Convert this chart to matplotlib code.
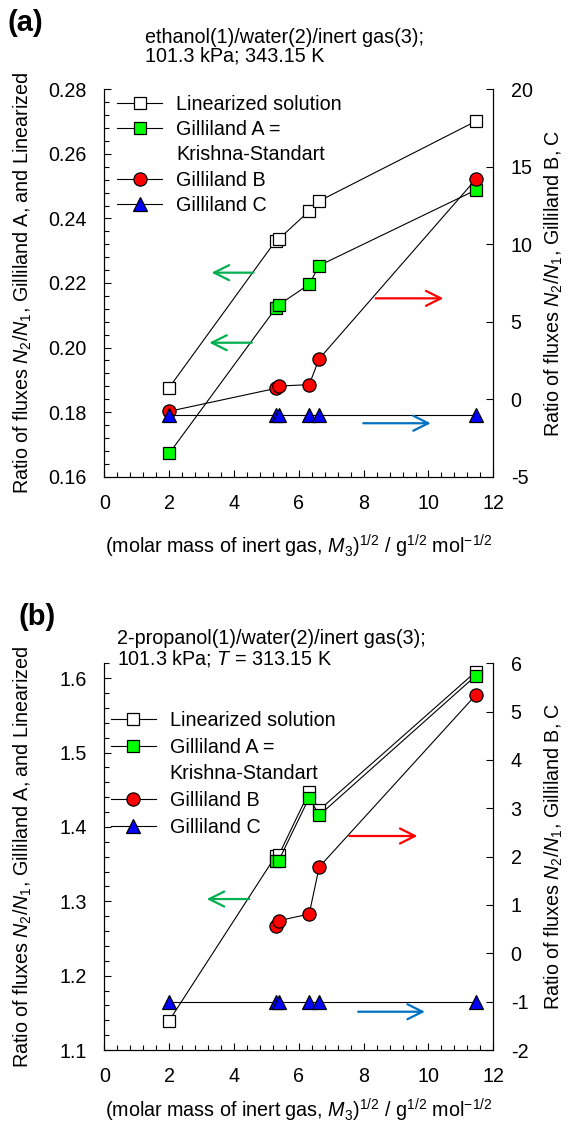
import numpy as np
import matplotlib
matplotlib.use('Agg')
import matplotlib.pyplot as plt
from matplotlib.lines import Line2D
from matplotlib.ticker import MultipleLocator

plt.rcParams['font.family'] = ['Liberation Sans', 'DejaVu Sans']
plt.rcParams['mathtext.fontset'] = 'custom'
plt.rcParams['mathtext.rm'] = 'Liberation Sans'
plt.rcParams['mathtext.it'] = 'Liberation Sans:italic'
plt.rcParams['axes.unicode_minus'] = False

# sqrt of molar mass of inert gas
x = [2.0, 5.29, 5.38, 6.32, 6.63, 11.46]

# (a) ethanol / water
a_lin = [0.1876, 0.2331, 0.2336, 0.2423, 0.2454, 0.2701]
a_gA = [0.1672, 0.2122, 0.2132, 0.2196, 0.2254, 0.2488]
a_gB = [-0.78, 0.70, 0.85, 0.94, 2.61, 14.19]
a_gC = [-1.0, -1.0, -1.0, -1.0, -1.0, -1.0]

# (b) 2-propanol / water
b_lin = [1.1394, 1.3612, 1.3618, 1.4473, 1.4227, 1.6087]
b_gA = [np.nan, 1.3540, 1.3548, 1.4393, 1.4156, 1.6033]
b_gB = [np.nan, 0.571, 0.675, 0.813, 1.786, 5.344]
b_gC = [-1.0, -1.0, -1.0, -1.0, -1.0, -1.0]

labels = ['Linearized solution', 'Gilliland A =', 'Krishna-Standart', 'Gilliland B', 'Gilliland C']

FS = 14.2
W, H = 569, 1134
fx = lambda p: p / W
fy = lambda p: 1 - p / H

xlab = r'(molar mass of inert gas, $M_3$)$^{1/2}$ / g$^{1/2}$ mol$^{-1/2}$'
ylab_l = r'Ratio of fluxes $N_2$/$N_1$, Gilliland A, and Linearized'
ylab_r = r'Ratio of fluxes $N_2$/$N_1$, Gilliland B, C'

mk = dict(markersize=8.6, markeredgecolor='black', markeredgewidth=0.9)
st_lin = dict(color='black', lw=0.8, marker='s', markerfacecolor='white', **mk)
st_A = dict(color='black', lw=0.8, marker='s', markerfacecolor='#00ff00', **mk)
st_B = dict(color='black', lw=0.8, marker='o', markerfacecolor='#ff0000', markersize=9.5,
            markeredgecolor='black', markeredgewidth=0.9)
st_C = dict(color='black', lw=0.8, marker='^', markerfacecolor='#0000ff', markersize=9.5,
            markeredgecolor='black', markeredgewidth=0.9)


def arrow(ax, x0, x1, y, color):
  ax.annotate('', xy=(x1, y), xytext=(x0, y),
              arrowprops=dict(arrowstyle='->,head_length=0.8,head_width=0.4', color=color,
                              lw=1.6, mutation_scale=13.5, shrinkA=0, shrinkB=0))


def panel(rect, lin, gA, gB, gC, ylim_l, ylim_r, maj_l, min_l, maj_r, fmt_l, xlab_y, leg_xy, leg_sp):
  ax = fig.add_axes(rect)
  axr = ax.twinx()
  ax.plot(x, lin, **st_lin)
  ax.plot(x, gA, **st_A)
  axr.plot(x, gB, **st_B)
  axr.plot(x, gC, **st_C)
  ax.set_xlim(0, 12)
  ax.set_ylim(*ylim_l)
  axr.set_ylim(*ylim_r)
  ax.xaxis.set_major_locator(MultipleLocator(2))
  ax.xaxis.set_minor_locator(MultipleLocator(0.4))
  ax.yaxis.set_major_locator(MultipleLocator(maj_l))
  ax.yaxis.set_minor_locator(MultipleLocator(min_l))
  ax.yaxis.set_major_formatter(fmt_l)
  axr.yaxis.set_major_locator(MultipleLocator(maj_r))
  for a in (ax, axr):
    a.spines['top'].set_visible(False)
    for s in a.spines.values():
      s.set_linewidth(0.8)
    a.tick_params(which='major', direction='in', length=5, width=0.8, pad=12.5, labelsize=FS)
    a.tick_params(which='minor', direction='in', length=3.5, width=0.8)
  ax.tick_params(top=False, which='both')
  ax.set_xlabel(xlab, fontsize=FS, va='center')
  ax.xaxis.set_label_coords(0.5, xlab_y)
  ax.set_ylabel(ylab_l, fontsize=FS, va='center')
  ax.yaxis.set_label_coords(-0.209, 0.5)
  axr.set_ylabel(ylab_r, fontsize=FS, va='center')
  axr.yaxis.set_label_coords(1.156, 0.5)
  # legend
  handles = [Line2D([], [], **st_lin), Line2D([], [], **st_A), Line2D([], [], linestyle='none'),
             Line2D([], [], **st_B), Line2D([], [], **st_C)]
  axr.legend(handles, labels, loc='upper left', bbox_to_anchor=leg_xy, frameon=False,
             fontsize=FS, handlelength=2.3, handletextpad=0.7, labelspacing=leg_sp,
             borderaxespad=0, borderpad=0, numpoints=1)
  return ax, axr


fig = plt.figure(figsize=(W / 100, H / 100), dpi=100)

ax1, ax1r = panel([fx(104.3), fy(476.7), fx(493.3) - fx(104.3), fy(89.3) - fy(476.7)],
                  a_lin, a_gA, a_gB, a_gC, (0.16, 0.28), (-5, 20), 0.02, 0.004, 5, '{x:.2f}',
                  -0.181, (0.033, 0.986), 0.32)
arrow(ax1, 4.60, 3.31, 0.2232, '#00b050')
arrow(ax1, 4.55, 3.24, 0.2015, '#00b050')
arrow(ax1r, 8.37, 10.46, 6.51, '#ff0000')
arrow(ax1r, 7.99, 10.07, -1.55, '#0070c0')

ax2, ax2r = panel([fx(104.3), fy(1050), fx(493.3) - fx(104.3), fy(663.3) - fy(1050)],
                  b_lin, b_gA, b_gB, b_gC, (1.1, 1.62), (-2, 6), 0.1, 0.02, 1, '{x:.1f}',
                  -0.155, (0.016, 0.877), 0.39)
arrow(ax2, 4.47, 3.16, 1.303, '#00b050')
arrow(ax2r, 7.56, 9.66, 2.427, '#ff0000')
arrow(ax2r, 7.83, 9.89, -1.208, '#0070c0')

fig.text(fx(25), fy(23), '(a)', fontsize=21, fontweight='bold', ha='center', va='center')
fig.text(fx(37.5), fy(617), '(b)', fontsize=21, fontweight='bold', ha='center', va='center')
fig.text(fx(145), fy(28), 'ethanol(1)/water(2)/inert gas(3);\n101.3 kPa; 343.15 K',
         fontsize=FS, ha='left', va='top', linespacing=1.0)
fig.text(fx(117), fy(629), '2-propanol(1)/water(2)/inert gas(3);\n101.3 kPa; $T$ = 313.15 K',
         fontsize=FS, ha='left', va='top', linespacing=1.0)

fig.savefig('out.png', dpi=100)
